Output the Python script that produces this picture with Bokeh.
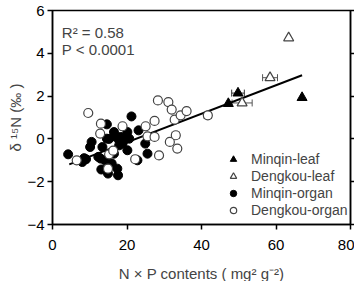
from bokeh.plotting import figure
from bokeh.models import (ColumnDataSource, Whisker, TeeHead, Label, Legend, LegendItem,
                          LinearAxis, FixedTicker, Range1d)
from bokeh.embed import file_html
from bokeh.resources import INLINE

# ---- data ----
mo_x = [4.2, 8.0, 8.5, 9.0, 10.1, 10.5, 12.3, 12.9, 13.1, 13.4, 14.1, 14.6, 14.6, 14.9,
        15.9, 16.5, 16.5, 17.4, 17.6, 17.9, 17.9, 18.3, 18.8, 19.4, 20.1, 20.1, 20.6, 21.2,
        22.8, 23.1, 24.9, 25.5, 15.2, 19.0, 17.0]
mo_y = [-0.72, -1.08, -0.90, -0.95, -0.38, -0.14, -0.84, -0.92, -1.43, -0.38, -1.0, 0.68,
        0.01, -1.62, -1.15, -0.69, 0.32, -1.39, -1.70, -0.07, -0.30, 0.09, -0.22, 0.06, 0.32,
        -0.53, 0.01, 1.05, -1.0, 0.40, -0.22, -0.69, 0.0, -0.1, 0.1]

do_x = [6.5, 9.6, 12.8, 13.0, 14.9, 15.2, 16.3, 18.8, 22.2, 25.0, 25.5, 27.4, 27.4, 28.3,
        28.6, 31.1, 31.5, 32.0, 32.8, 33.1, 33.5, 34.4, 36.0, 41.7]
do_y = [-1.0, 1.21, 0.25, 0.71, -1.39, -0.72, -0.55, 0.59, -0.95, 0.59, 0.12, 0.84, 0.09,
        1.80, -0.77, 1.72, -0.14, 1.37, 0.90, 0.17, -0.45, 1.10, 1.30, 1.10]
do_xerr = [0, 0, 0, 0, 0, 0, 0, 0, 0, 0, 0, 0, 0, 0,
           0, 0, 0.4, 0, 0, 1.0, 0.6, 0, 0, 1.0]

ml_x = [47.2, 49.8, 67.0]
ml_y = [1.65, 2.14, 1.93]
ml_xerr = [0, 1.7, 0]

dl_x = [50.9, 58.4, 63.4]
dl_y = [1.68, 2.86, 4.72]
dl_xerr = [2.7, 2.0, 0]

fit_slope = 0.0666
fit_intercept = -1.49
fit_x = [4.5, 67.0]

x_ticks = [0, 20, 40, 60, 80]
y_ticks = [-4, -2, 0, 2, 4, 6]

FONT = "Liberation Sans"

p = figure(frame_width=298, frame_height=214, output_backend="svg", toolbar_location=None,
           x_range=Range1d(0, 80), y_range=Range1d(-4, 6),
           min_border_left=52, min_border_right=0, min_border_top=10, min_border_bottom=57)
p.xgrid.visible = False
p.ygrid.visible = False
p.outline_line_color = "black"
p.outline_line_width = 1.5
p.background_fill_color = "white"
p.border_fill_color = "white"

for ax, ticks in ((p.xaxis[0], x_ticks), (p.yaxis[0], y_ticks)):
    ax.ticker = FixedTicker(ticks=ticks)
    ax.minor_tick_line_color = None
    ax.major_tick_out = 5
    ax.major_tick_in = 0
    ax.axis_line_width = 1.5
    ax.major_tick_line_width = 1.5
    ax.major_label_text_font = FONT
    ax.major_label_text_font_size = "15px"
    ax.major_label_text_color = "black"
    ax.axis_label_text_font = FONT
    ax.axis_label_text_font_size = "15px"
    ax.axis_label_text_font_style = "normal"

p.xaxis[0].axis_label = "N × P contents ( mg² g⁻²)"
p.xaxis[0].major_label_standoff = 10
p.xaxis[0].axis_label_standoff = 12
p.yaxis[0].axis_label = "δ ¹⁵N (‰ )"
p.yaxis[0].major_label_standoff = 3
p.yaxis[0].axis_label_standoff = 0

# mirrored outward ticks on the right (no labels)
rax = LinearAxis(ticker=FixedTicker(ticks=y_ticks),
                 major_label_overrides={t: "" for t in y_ticks},
                 major_label_standoff=0,
                 major_tick_in=0, major_tick_out=4, minor_tick_line_color=None,
                 axis_line_width=1.5, major_tick_line_width=1.5)
p.add_layout(rax, "right")

# regression line
fit_y = [fit_intercept + fit_slope * x for x in fit_x]
p.line(fit_x, fit_y, line_color="black", line_width=2)

def whiskers(xs, ys, errs, color):
    sel = [i for i, e in enumerate(errs) if e > 0]
    src = ColumnDataSource(dict(
        y=[ys[i] for i in sel],
        lo=[xs[i] - errs[i] for i in sel],
        hi=[xs[i] + errs[i] for i in sel]))
    w = Whisker(base="y", lower="lo", upper="hi", dimension="width", source=src,
                line_color=color, line_width=1,
                lower_head=TeeHead(size=7, line_color=color, line_width=1),
                upper_head=TeeHead(size=7, line_color=color, line_width=1))
    p.add_layout(w)

whiskers(ml_x, ml_y, ml_xerr, "#333333")
whiskers(dl_x, dl_y, dl_xerr, "#555555")
whiskers(do_x, do_y, do_xerr, "#555555")

r_mo = p.scatter(mo_x, mo_y, marker="circle", size=9, fill_color="black", line_color="black")
r_do = p.scatter(do_x, do_y, marker="circle", size=9, fill_color="white", line_color="#444444",
                 line_width=1.2)
r_ml = p.scatter(ml_x, ml_y, marker="triangle", size=10, fill_color="black", line_color="black")
r_dl = p.scatter(dl_x, dl_y, marker="triangle", size=10, fill_color="white", line_color="#444444",
                 line_width=1.2)

legend = Legend(items=[
    LegendItem(label="Minqin-leaf", renderers=[r_ml]),
    LegendItem(label="Dengkou-leaf", renderers=[r_dl]),
    LegendItem(label="Minqin-organ", renderers=[r_mo]),
    LegendItem(label="Dengkou-organ", renderers=[r_do]),
], location=(171, 6), padding=0, margin=0, spacing=1, glyph_height=16, glyph_width=20,
    label_height=16, label_standoff=8, label_text_font=FONT, label_text_font_size="14px",
    border_line_color=None, background_fill_alpha=0)
p.add_layout(legend, "center")

p.add_layout(Label(x=2.5, y=4.97, text="R² = 0.58", text_font=FONT, text_font_size="15px",
                   text_baseline="alphabetic"))
p.add_layout(Label(x=2.5, y=4.18, text="P < 0.0001", text_font=FONT, text_font_size="15px",
                   text_baseline="alphabetic"))

open("out.html", "w").write(file_html(p, INLINE))
